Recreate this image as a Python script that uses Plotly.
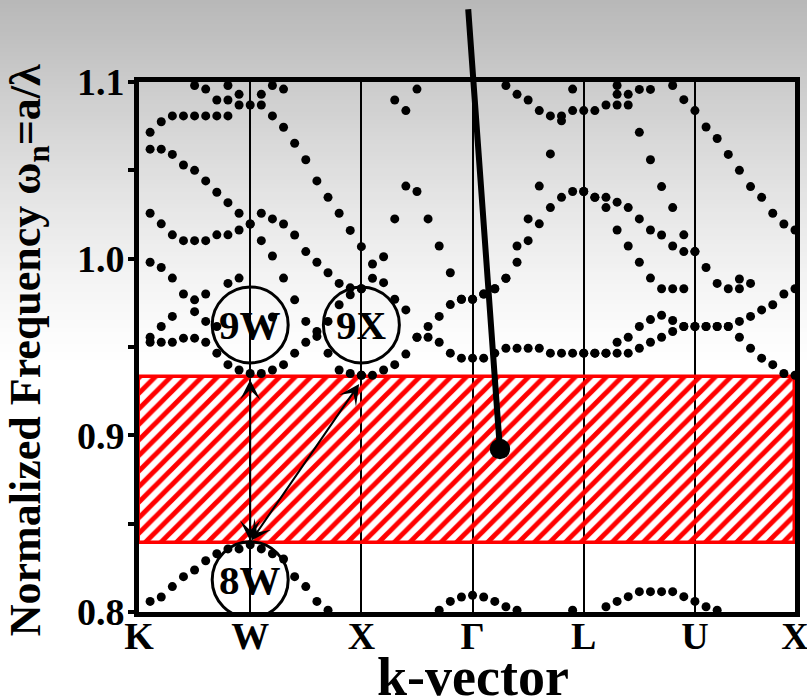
import plotly.graph_objects as go

N = None
k_index = list(range(60))
k_tick_idx = [0, 10, 20, 30, 40, 50, 59]
k_tick_labels = ["K", "W", "X", "Γ", "L", "U", "X"]
freq_ticks = [0.8, 0.9, 1.0, 1.1]
freq_tick_labels = ["0.8", "0.9", "1.0", "1.1"]
gap_low, gap_high = 0.839, 0.933

band_8 = [N, 0.806, 0.8085, 0.8144, 0.820, 0.8238, 0.829, 0.833, 0.8357, 0.8357,
          0.838, 0.8357, 0.833, 0.830, 0.820, 0.8144, 0.806, 0.801, N, N,
          N, N, N, N, N, N, N, 0.801, 0.806, 0.8085,
          0.8095, 0.8085, 0.806, 0.803, 0.801, N, N, N, N, 0.801,
          N, N, 0.803, 0.806, 0.8087, 0.8115, 0.8115, 0.8115, 0.8115, 0.8087,
          0.806, 0.803, 0.801, N, N, N, N, N, N, N]
band_9 = [N, 0.9527, 0.9527, 0.9527, 0.955, 0.955, 0.9527, 0.9465, 0.940, 0.937,
          0.935, 0.935, 0.937, 0.940, 0.9465, 0.9527, 0.956, 0.9465, 0.937, 0.935,
          0.934, 0.934, 0.937, 0.940, 0.946, 0.9555, 0.9555, 0.9527, 0.9465, 0.9437,
          0.9437, 0.9437, 0.9465, 0.9493, 0.9493, 0.9493, 0.9493, 0.9465, 0.9465, 0.9465,
          0.9465, 0.9465, 0.9465, 0.9465, 0.9465, 0.9493, 0.9527, 0.9555, 0.9588, 0.9616,
          0.9616, 0.9616, 0.9616, 0.9616, 0.9555, 0.9493, 0.9437, 0.940, 0.935, 0.934]
band_10 = [N, 0.9555, 0.9616, 0.9673, 0.980, 0.970, 0.9645, 0.9616, 0.986, 0.989,
           1.0196, 1.0102, 0.967, 0.989, 0.9767, 0.9645, 0.9588, 0.9645, 0.9739, 0.9796,
           0.934, 0.9889, 0.9864, 0.977, 0.971, 0.9555, 0.9616, 0.9673, 0.974, 0.977,
           0.977, 0.980, 0.983, 0.9889, 0.998, 1.0102, 1.0197, 1.0289, 1.0347, 1.038,
           0.9465, 0.9465, 0.9465, 0.9527, 0.9555, 0.9616, 0.9655, 0.968, 0.965, 0.9616,
           0.9616, 0.9616, 0.9616, 0.9616, 0.9645, 0.9673, 0.971, 0.9739, 0.980, 0.983]
band_11 = [N, 0.998, 0.995, 0.989, 1.0102, 0.9767, 0.980, 1.0135, 1.0135, 1.0162,
           1.0196, 1.0257, 1.0015, 1.0196, 1.0134, 1.004, 0.998, 0.992, 0.986, 0.9835,
           0.983, 0.997, 1.0011, 1.0225, 1.0411, 1.038, 1.0225, 1.0072, 0.992, 0.977,
           0.977, 0.980, 0.983, 0.9889, 1.0072, 1.0225, 1.0411, 1.0593, 1.078, 1.0838,
           1.038, 1.0347, 1.0289, 1.0162, 1.0072, 0.998, 0.989, 0.983, 0.983, 0.983,
           1.004, 0.995, 0.986, 0.983, 0.983, 0.986, 1.0347, 1.0257, 1.0196, 1.0162]
band_12 = [N, 1.0257, 1.0197, 1.0135, 1.053, 1.0102, 1.0102, 1.0376, 1.0317, 1.0257,
           1.087, 1.087, 1.0225, 1.0744, 1.0653, 1.056, 1.044, 1.0347, 1.0257, 1.016,
           0.983, N, N, 1.0898, 1.0838, 1.096, N, N, N, N,
           N, N, N, 1.098, 1.093, 1.0898, 1.0838, 1.0808, 1.0808, 1.096,
           1.038, 1.0347, 1.0347, 1.032, 1.0289, 1.0225, 1.0162, 1.0134, 1.0072, 1.004,
           1.004, 1.0745, 1.068, 1.059, 0.9885, 1.0408, N, N, N, N]
band_13 = [N, 1.062, 1.062, 1.059, 1.0808, 1.050, 1.044, 1.0808, 1.0808, 1.087,
           N, 1.093, 1.0808, 1.096, N, N, N, N, N, N,
           1.0068, N, N, N, N, N, N, N, N, N,
           N, N, N, N, N, N, N, N, N, N,
           1.0838, 1.0838, 1.087, 1.087, 1.087, 1.0715, 1.056, 1.0408, 1.0289, 1.0135,
           1.0838, N, N, N, 1.050, N, N, N, N, N]
band_14 = [N, 1.0715, 1.0775, 1.0808, N, 1.0808, 1.0808, 1.0898, 1.0898, 1.093,
           N, N, 1.098, N, N, N, N, N, N, N,
           N, N, N, N, N, N, N, N, N, N,
           N, N, N, N, N, N, N, N, N, N,
           N, N, N, 1.093, 1.093, 1.0958, 1.0958, N, 1.098, 1.090,
           N, N, N, N, N, N, N, N, N, N]
band_15 = [N, N, N, N, N, 1.098, 1.096, N, 1.098, N] + [N] * 33 + [1.098] + [N] * 16

bands = [band_8, band_9, band_10, band_11, band_12, band_13, band_14, band_15]

SERIF = "Liberation Serif"
fig = go.Figure()

# photonic band gap (hatched)
fig.add_trace(go.Bar(
    x=[(k_index[0] + k_index[-1]) / 2], y=[gap_high - gap_low], base=[gap_low],
    width=[k_index[-1] - k_index[0]],
    marker=dict(color="rgba(0,0,0,0)", line=dict(color="#ff0000", width=3.5),
                pattern=dict(shape="/", fgcolor="#ff0000", bgcolor="rgba(0,0,0,0)",
                             fgopacity=1, size=11, solidity=0.45)),
    hoverinfo="skip", showlegend=False))

for b in bands:
    fig.add_trace(go.Scatter(x=k_index, y=b, mode="markers",
                             marker=dict(size=9, color="black"),
                             cliponaxis=False, showlegend=False, hoverinfo="skip"))

# gradient background
shapes = []
def py2paper(py):
    return (612 - py) / 530
for i in range(0, 372, 4):
    t = max(0.0, 1 - (i + 2) / 370)
    g = round(255 - 72 * t ** 1.3)
    shapes.append(dict(type="rect", xref="paper", yref="paper", x0=-0.25, x1=1.05,
                       y0=py2paper(i + 5), y1=py2paper(i),
                       fillcolor=f"rgb({g},{g},{g})", line=dict(width=0), layer="below"))

circles = [(10, 0.9625, "9W"), (20, 0.9625, "9X"), (10, 0.8182, "8W")]
annotations = []
for cx, cy, lab in circles:
    shapes.append(dict(type="circle", xref="x", yref="y", xsizemode="pixel", ysizemode="pixel",
                       xanchor=cx, yanchor=cy, x0=-38, x1=38, y0=-38, y1=38,
                       line=dict(color="black", width=3), fillcolor="rgba(0,0,0,0)", layer="above"))
    annotations.append(dict(x=cx, y=cy, xref="x", yref="y", text=lab, showarrow=False,
                            font=dict(family=SERIF, size=41, color="black", weight="bold")))

# transition arrows
for tx, ty in [(10, 0.9315), (19.8, 0.929)]:
    annotations.append(dict(x=tx, y=ty, ax=10, ay=0.8395, xref="x", yref="y", axref="x", ayref="y",
                            text="", showarrow=True, arrowhead=3, arrowside="end+start",
                            arrowsize=1.7, arrowwidth=2, arrowcolor="black"))

# pointer line with dot
annotations.append(dict(x=32.46, y=0.8923, ax=29.6, ay=1.142, xref="x", yref="y", axref="x", ayref="y",
                        text="", showarrow=True, arrowhead=6, arrowsize=0.85, arrowwidth=6,
                        arrowcolor="black"))

annotations.append(dict(x=-0.1692, y=0.494, xref="paper", yref="paper", textangle=-90,
                        text="Normalized Frequency ω<sub>n</sub>=a/λ", showarrow=False,
                        xanchor="center", yanchor="middle",
                        font=dict(family=SERIF, size=44, color="black", weight="bold")))
annotations.append(dict(x=0.509, y=py2paper(677), xref="paper", yref="paper",
                        text="k-vector", showarrow=False, xanchor="center", yanchor="middle",
                        font=dict(family=SERIF, size=54, color="black", weight="bold")))

fig.update_layout(
    width=807, height=698, margin=dict(l=139, r=12, t=82, b=86, autoexpand=False),
    paper_bgcolor="white", plot_bgcolor="rgba(0,0,0,0)",
    shapes=shapes, annotations=annotations, hovermode=False, bargap=0,
    xaxis=dict(range=[k_index[0], k_index[-1]], tickvals=k_tick_idx, ticktext=k_tick_labels,
               showgrid=True, gridcolor="black", gridwidth=2, zeroline=False, automargin=False,
               showline=True, linecolor="black", linewidth=5, mirror=True, ticks="",
               ticklabelstandoff=-14, ticklabeloverflow="allow",
               tickfont=dict(family=SERIF, size=38, color="black", weight="bold")),
    yaxis=dict(range=[0.8, 1.1], tickvals=freq_ticks, ticktext=freq_tick_labels,
               showgrid=False, zeroline=False, showline=True, linecolor="black", linewidth=5,
               mirror=True, ticks="outside", ticklen=6, tickwidth=4, tickcolor="black",
               ticklabelstandoff=-4, automargin=False, ticklabeloverflow="allow",
               minor=dict(tickvals=[0.85, 0.95, 1.05], ticks="outside", ticklen=6, tickwidth=4,
                          tickcolor="black", showgrid=False),
               tickfont=dict(family=SERIF, size=38, color="black", weight="bold")),
)
fig.write_html("out.html", config={"displayModeBar": False},
               post_script="document.body.style.margin='0px';document.body.style.padding='0px';")
